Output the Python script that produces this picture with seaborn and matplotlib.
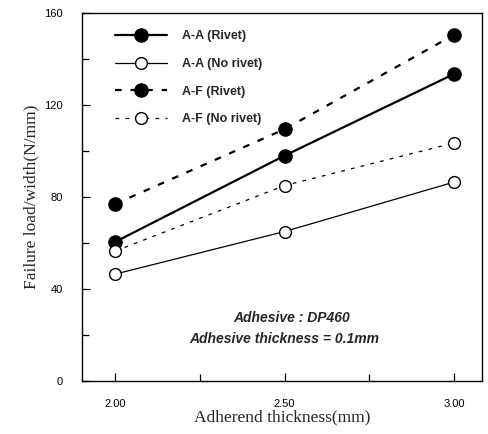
import seaborn as sns
import matplotlib
matplotlib.use("Agg")
import matplotlib.pyplot as plt
from matplotlib.ticker import MultipleLocator, FormatStrFormatter
import pandas as pd

thickness = [2.00, 2.50, 3.00]
aa_rivet = [60.5, 98, 133.5]
aa_no_rivet = [46.5, 65, 86.5]
af_rivet = [77, 109.5, 150.5]
af_no_rivet = [56.5, 85, 103.5]
labels = ["A-A (Rivet)", "A-A (No rivet)", "A-F (Rivet)", "A-F (No rivet)"]

rows = []
for name, vals in zip(labels, [aa_rivet, aa_no_rivet, af_rivet, af_no_rivet]):
    for t, v in zip(thickness, vals):
        rows.append({"series": name, "thickness": t, "load": v})
df = pd.DataFrame(rows)

sns.set_style("ticks")
plt.rcParams["font.family"] = ["Liberation Sans", "DejaVu Sans"]

fig = plt.figure(figsize=(4.88, 4.34), dpi=100)
ax = fig.add_axes([0.168, 0.122, 0.820, 0.848])

styles = {
    "A-A (Rivet)": dict(linestyle="-", linewidth=1.6, marker="o", markersize=9.5,
                        markerfacecolor="black"),
    "A-A (No rivet)": dict(linestyle="-", linewidth=0.9, marker="o", markersize=8.5,
                           markerfacecolor="white"),
    "A-F (Rivet)": dict(linestyle=(0, (3, 4)), linewidth=1.6, marker="o", markersize=9.5,
                        markerfacecolor="black"),
    "A-F (No rivet)": dict(linestyle=(0, (3, 5)), linewidth=0.9, marker="o", markersize=8.5,
                           markerfacecolor="white"),
}
for name in labels:
    sub = df[df["series"] == name]
    sns.lineplot(data=sub, x="thickness", y="load", ax=ax, color="black",
                 markeredgecolor="black", markeredgewidth=1.0, label=name,
                 **styles[name])

ax.set_xlim(1.902, 3.083)
ax.set_ylim(0, 160)
ax.xaxis.set_major_locator(MultipleLocator(0.5))
ax.xaxis.set_minor_locator(MultipleLocator(0.25))
ax.yaxis.set_major_locator(MultipleLocator(40))
ax.yaxis.set_minor_locator(MultipleLocator(20))
ax.xaxis.set_major_formatter(FormatStrFormatter("%.2f"))
ax.tick_params(which="both", direction="in", top=False, right=False, labelsize=8,
               color="black", labelcolor="black")
ax.tick_params(which="major", length=6, width=0.9)
ax.tick_params(which="minor", length=5, width=0.9)
ax.tick_params(axis="x", pad=13)
ax.tick_params(axis="y", pad=14)
for s in ax.spines.values():
    s.set_color("black")
    s.set_linewidth(1.0)

ax.set_xlabel("Adherend thickness(mm)", family="Liberation Serif", fontsize=12.5,
              labelpad=0)
ax.set_ylabel("Failure load/width(N/mm)", family="Liberation Serif", fontsize=12.5,
              labelpad=3)

ax.text(0.525, 0.171, "Adhesive : DP460", transform=ax.transAxes, ha="center",
        va="center", fontsize=10, fontstyle="italic", fontweight="semibold")
ax.text(0.505, 0.114, "Adhesive thickness = 0.1mm", transform=ax.transAxes,
        ha="center", va="center", fontsize=10, fontstyle="italic", fontweight="semibold")

leg = ax.legend(loc="upper left", bbox_to_anchor=(0.0825, 0.953), frameon=False,
                fontsize=9, handlelength=4.2, labelspacing=1.25, handletextpad=1.2,
                borderaxespad=0, borderpad=0)
for t in leg.get_texts():
    t.set_fontweight("bold")

fig.savefig("out.png", dpi=100)
